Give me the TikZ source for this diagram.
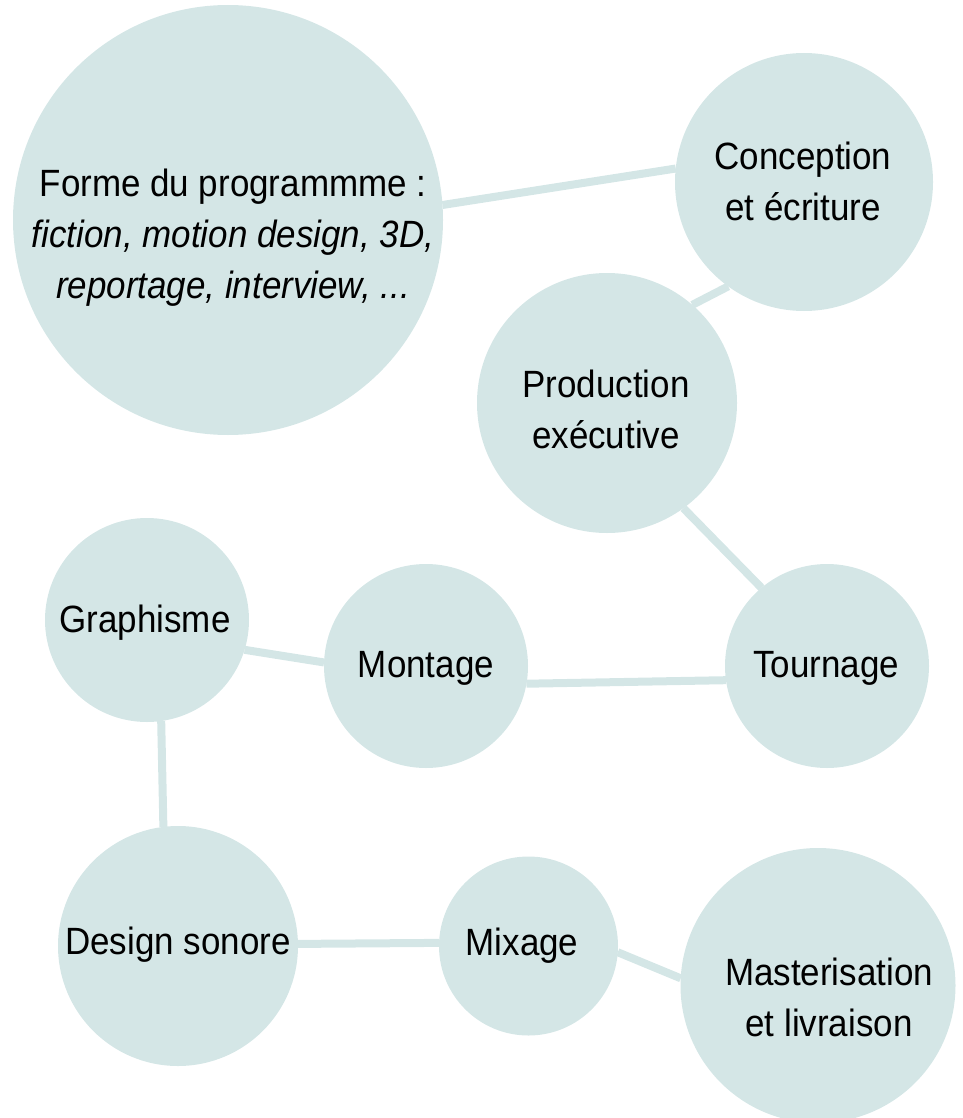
\documentclass[tikz,border=0pt]{standalone}
\usepackage{fontspec}
\setmainfont{Liberation Sans}[FakeStretch=0.92]
\definecolor{bub}{HTML}{D4E6E6}
\begin{document}
\begin{tikzpicture}[x=1pt,y=-1pt,
  bubble/.style={circle,fill=bub,draw=none,inner sep=0pt,outer sep=0pt,minimum size=#1},
  link/.style={draw=bub,line width=8pt},
  lbl/.style={align=center,font=\fontsize{38}{51}\selectfont,text=black,inner sep=0pt}]
\useasboundingbox (0,0) rectangle (962,1118);
\clip (0,0) rectangle (962,1118);
% bubbles
\node[bubble=430pt] (forme) at (228,220) {};
\node[bubble=258pt] (con) at (804,182) {};
\node[bubble=260pt] (pro) at (607,403) {};
\node[bubble=204pt] (gra) at (147,620) {};
\node[bubble=204pt] (mon) at (426,666) {};
\node[bubble=204pt] (tou) at (827,666) {};
\node[bubble=240pt] (des) at (178,946) {};
\node[bubble=179pt] (mix) at (528.5,946) {};
\node[bubble=275pt] (mas) at (818,985.5) {};
% connectors
\draw[link] (forme.4.6) -- (con.174);
\draw[link] (con.234) -- (pro.49);
\draw[link] (pro.-54) -- (tou.130);
\draw[link] (gra.-17) -- (mon.178);
\draw[link] (mon.-10) -- (tou.188);
\draw[link] (gra.-82) -- (des.97);
\draw[link] (des.1.5) -- (mix.178);
\draw[link] (mix.-4) -- (mas.177);
% labels
\node[lbl] (tforme) at (233,238) {Forme du programmme :\\\textit{fiction, motion design, 3D,}\\\textit{reportage, interview, ...}};
\node[lbl] (tcon) at (803,181) {Conception\\et écriture};
\node[lbl] (tpro) at (606,409) {Production\\exécutive};
\node[lbl] (tgra) at (145,623) {Graphisme};
\node[lbl] (tmon) at (426,668) {Montage};
\node[lbl] (ttou) at (826,668) {Tournage};
\node[lbl] (tdes) at (178,945) {Design sonore};
\node[lbl] (tmix) at (522,946) {Mixage};
\node[lbl] (tmas) at (829,997) {Masterisation\\et livraison};
\end{tikzpicture}
\end{document}
